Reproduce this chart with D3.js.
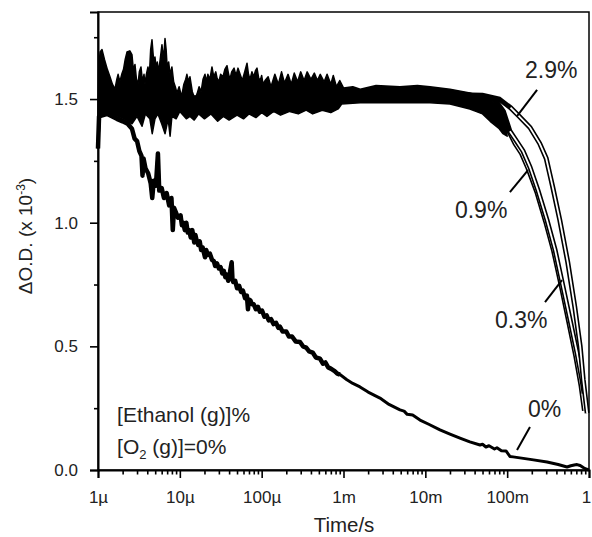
<!DOCTYPE html>
<html>
<head>
<meta charset="utf-8">
<script src="https://cdn.jsdelivr.net/npm/d3@7"></script>
<style>
  body { margin: 0; background: #fff; }
  svg { display: block; font-family: "Liberation Sans", Arial, sans-serif; }
</style>
</head>
<body>
<div id="chart"></div>
<script>
// ---- data (time in s, dOD in 1e-3) ----
const xTickValues = [1e-6, 1e-5, 1e-4, 1e-3, 1e-2, 1e-1, 1];
const xTickLabels = ["1\u00b5", "10\u00b5", "100\u00b5", "1m", "10m", "100m", "1"];
const yTickValues = [0, 0.5, 1.0, 1.5];
const yMinorValues = [0.25, 0.75, 1.25, 1.75];

// noisy band where the three ethanol traces overlap (upper / lower edge)
const bandHi = [
  [1.0e-6, 1.45], [1.02e-6, 1.62], [1.06e-6, 1.69], [1.12e-6, 1.70], [1.2e-6, 1.66],
  [1.3e-6, 1.62], [1.4e-6, 1.59], [1.5e-6, 1.56], [1.61e-6, 1.54], [1.7e-6, 1.58],
  [1.76e-6, 1.60], [1.85e-6, 1.57], [1.95e-6, 1.60], [2.05e-6, 1.62], [2.15e-6, 1.66],
  [2.26e-6, 1.69], [2.45e-6, 1.695], [2.6e-6, 1.68], [2.7e-6, 1.62], [2.83e-6, 1.64],
  [2.95e-6, 1.58], [3.08e-6, 1.56], [3.2e-6, 1.61], [3.35e-6, 1.63], [3.5e-6, 1.57],
  [3.65e-6, 1.60], [3.75e-6, 1.56], [3.9e-6, 1.60], [4.08e-6, 1.63], [4.25e-6, 1.60],
  [4.4e-6, 1.70], [4.57e-6, 1.74], [4.72e-6, 1.68], [4.85e-6, 1.64], [4.97e-6, 1.67],
  [5.15e-6, 1.62], [5.3e-6, 1.65], [5.5e-6, 1.61], [5.75e-6, 1.66], [6.05e-6, 1.72],
  [6.25e-6, 1.67], [6.45e-6, 1.70], [6.59e-6, 1.745], [6.8e-6, 1.70], [7.0e-6, 1.63],
  [7.3e-6, 1.65], [7.6e-6, 1.60], [8.0e-6, 1.63], [8.4e-6, 1.57], [8.8e-6, 1.55],
  [9.23e-6, 1.525], [9.8e-6, 1.55], [1.05e-5, 1.51], [1.12e-5, 1.56], [1.18e-5, 1.58],
  [1.22e-5, 1.60], [1.28e-5, 1.57], [1.33e-5, 1.59], [1.42e-5, 1.53], [1.53e-5, 1.50],
  [1.62e-5, 1.52], [1.72e-5, 1.55], [1.82e-5, 1.53], [1.92e-5, 1.58], [2.03e-5, 1.60],
  [2.12e-5, 1.57], [2.2e-5, 1.60], [2.33e-5, 1.58], [2.47e-5, 1.63], [2.6e-5, 1.59],
  [2.75e-5, 1.61], [2.85e-5, 1.585], [3.0e-5, 1.57], [3.15e-5, 1.60], [3.37e-5, 1.59],
  [3.55e-5, 1.62], [3.77e-5, 1.635], [3.95e-5, 1.60], [4.1e-5, 1.58], [4.3e-5, 1.61],
  [4.6e-5, 1.625], [4.85e-5, 1.595], [5.14e-5, 1.625], [5.45e-5, 1.60], [5.8e-5, 1.575],
  [6.2e-5, 1.61], [6.62e-5, 1.645], [6.9e-5, 1.60], [7.2e-5, 1.58], [7.6e-5, 1.61],
  [8.0e-5, 1.59], [8.4e-5, 1.615], [8.77e-5, 1.625], [9.2e-5, 1.585], [9.6e-5, 1.575],
  [1.0e-4, 1.595], [1.04e-4, 1.56], [1.1e-4, 1.575], [1.2e-4, 1.59], [1.3e-4, 1.55],
  [1.45e-4, 1.60], [1.6e-4, 1.56], [1.75e-4, 1.61], [1.9e-4, 1.565], [2.1e-4, 1.60],
  [2.3e-4, 1.56], [2.5e-4, 1.605], [2.75e-4, 1.57], [3.0e-4, 1.61], [3.3e-4, 1.575],
  [3.6e-4, 1.61], [4.0e-4, 1.58], [4.4e-4, 1.605], [4.8e-4, 1.575], [5.2e-4, 1.60],
  [5.8e-4, 1.57], [6.3e-4, 1.60], [7.0e-4, 1.56], [7.5e-4, 1.595], [8.2e-4, 1.55],
  [9.0e-4, 1.575], [1.0e-3, 1.545], [1.3e-3, 1.55], [1.6e-3, 1.54], [2.5e-3, 1.555],
  [4.9e-3, 1.55], [8.0e-3, 1.555], [1.14e-2, 1.55], [2.0e-2, 1.54], [3.5e-2, 1.525],
  [6.2e-2, 1.50], [8.9e-2, 1.455]
];
const bandLo = [
  [1.0e-6, 1.30], [1.08e-6, 1.44], [1.4e-6, 1.44], [2.0e-6, 1.42], [2.6e-6, 1.40],
  [3.0e-6, 1.43], [3.45e-6, 1.39], [3.8e-6, 1.44], [4.3e-6, 1.42], [4.6e-6, 1.36],
  [4.97e-6, 1.42], [5.4e-6, 1.44], [6.0e-6, 1.40], [6.6e-6, 1.36], [7.2e-6, 1.42],
  [7.6e-6, 1.35], [8.0e-6, 1.43], [9.0e-6, 1.42], [1.0e-5, 1.45], [1.2e-5, 1.42],
  [1.33e-5, 1.43], [1.5e-5, 1.415], [1.7e-5, 1.44], [2.0e-5, 1.42], [2.4e-5, 1.44],
  [2.9e-5, 1.41], [3.4e-5, 1.43], [4.0e-5, 1.415], [5.0e-5, 1.435], [6.0e-5, 1.42],
  [7.0e-5, 1.44], [8.5e-5, 1.425], [1.0e-4, 1.445], [1.16e-4, 1.43], [1.4e-4, 1.45],
  [1.7e-4, 1.435], [2.2e-4, 1.45], [2.8e-4, 1.44], [3.5e-4, 1.455], [4.2e-4, 1.44],
  [5.5e-4, 1.455], [7.0e-4, 1.445], [8.6e-4, 1.46], [9.5e-4, 1.48], [1.6e-3, 1.485],
  [4.9e-3, 1.485], [1.14e-2, 1.485], [2.0e-2, 1.48], [3.5e-2, 1.46], [5.0e-2, 1.44],
  [6.2e-2, 1.41], [8.0e-2, 1.38], [8.9e-2, 1.36], [0.1, 1.35]
];

// individual traces
const ethanol29 = [
  [1e-6, 1.50], [1e-3, 1.51], [1e-2, 1.52], [0.05, 1.515], [0.08, 1.50], [0.11, 1.465],
  [0.14, 1.43], [0.19, 1.385], [0.25, 1.32], [0.30, 1.26], [0.33, 1.20], [0.36, 1.145],
  [0.44, 1.01], [0.55, 0.84], [0.67, 0.66], [0.78, 0.50], [0.85, 0.365], [0.95, 0.23]
];
const ethanol09 = [
  [1e-6, 1.50], [1e-3, 1.51], [1e-2, 1.515], [0.05, 1.51], [0.07, 1.50], [0.09, 1.45],
  [0.108, 1.37], [0.13, 1.33], [0.156, 1.29], [0.19, 1.225], [0.238, 1.13], [0.307, 1.01],
  [0.385, 0.89], [0.482, 0.74], [0.587, 0.607], [0.714, 0.473], [0.822, 0.364], [0.87, 0.31]
];
const ethanol03 = [
  [1e-6, 1.50], [1e-3, 1.51], [1e-2, 1.515], [0.05, 1.505], [0.07, 1.50], [0.09, 1.44],
  [0.105, 1.37], [0.125, 1.32], [0.15, 1.28], [0.18, 1.22], [0.23, 1.125], [0.295, 1.005],
  [0.37, 0.885], [0.465, 0.735], [0.565, 0.60], [0.69, 0.46], [0.80, 0.34], [0.88, 0.24]
];
const ethanol0 = [
  [1.0e-6, 1.30], [1.03e-6, 1.43], [1.3e-6, 1.44], [1.7e-6, 1.42], [2.0e-6, 1.41],
  [2.3e-6, 1.40], [2.6e-6, 1.38], [2.8e-6, 1.34], [3.0e-6, 1.33], [3.2e-6, 1.29],
  [3.4e-6, 1.27], [3.5e-6, 1.19], [3.6e-6, 1.26], [3.8e-6, 1.22], [4.1e-6, 1.20],
  [4.4e-6, 1.16], [4.6e-6, 1.10], [4.8e-6, 1.17], [5.1e-6, 1.15], [5.4e-6, 1.28],
  [5.6e-6, 1.13], [6.0e-6, 1.14], [6.4e-6, 1.10], [6.9e-6, 1.12], [7.4e-6, 1.07],
  [7.9e-6, 1.10], [8.2e-6, 0.97], [8.5e-6, 1.06], [9.0e-6, 1.04], [9.5e-6, 1.02],
  [1.02e-5, 1.03], [1.06e-5, 0.99], [1.1e-5, 1.00], [1.15e-5, 0.97], [1.2e-5, 1.00],
  [1.25e-5, 0.96], [1.3e-5, 0.97], [1.36e-5, 0.94], [1.42e-5, 0.97], [1.5e-5, 0.92],
  [1.55e-5, 0.95], [1.6e-5, 0.93], [1.68e-5, 0.91], [1.75e-5, 0.925], [1.82e-5, 0.89],
  [1.9e-5, 0.90], [2.03e-5, 0.86], [2.1e-5, 0.89], [2.2e-5, 0.87], [2.33e-5, 0.875],
  [2.47e-5, 0.85], [2.6e-5, 0.845], [2.7e-5, 0.825], [2.85e-5, 0.835], [3.0e-5, 0.815],
  [3.15e-5, 0.82], [3.3e-5, 0.795], [3.45e-5, 0.805], [3.6e-5, 0.78], [3.75e-5, 0.79],
  [3.9e-5, 0.765], [4.1e-5, 0.80], [4.3e-5, 0.84], [4.4e-5, 0.77], [4.5e-5, 0.76],
  [4.75e-5, 0.765], [5.0e-5, 0.735], [5.3e-5, 0.745], [5.6e-5, 0.72], [5.9e-5, 0.725],
  [6.26e-5, 0.695], [6.6e-5, 0.705], [6.8e-5, 0.65], [7.0e-5, 0.69], [7.3e-5, 0.685],
  [7.6e-5, 0.67], [8.0e-5, 0.67], [8.5e-5, 0.65], [9.0e-5, 0.66], [9.5e-5, 0.64],
  [1.01e-4, 0.645], [1.08e-4, 0.62], [1.15e-4, 0.625], [1.22e-4, 0.605], [1.3e-4, 0.61],
  [1.4e-4, 0.59], [1.5e-4, 0.595], [1.6e-4, 0.575], [1.67e-4, 0.58], [1.8e-4, 0.56],
  [2.0e-4, 0.56], [2.15e-4, 0.54], [2.35e-4, 0.54], [2.6e-4, 0.52], [2.94e-4, 0.518],
  [3.2e-4, 0.50], [3.5e-4, 0.495], [3.8e-4, 0.48], [4.2e-4, 0.475], [4.6e-4, 0.455],
  [5.16e-4, 0.45], [5.6e-4, 0.43], [6.0e-4, 0.435], [6.5e-4, 0.415], [7.0e-4, 0.41],
  [7.8e-4, 0.40], [8.4e-4, 0.39], [9.06e-4, 0.386], [1.1e-3, 0.365], [1.3e-3, 0.35],
  [1.59e-3, 0.336], [2.0e-3, 0.315], [2.79e-3, 0.291], [3.6e-3, 0.265], [4.9e-3, 0.243],
  [5.5e-3, 0.238], [6.0e-3, 0.225], [7.0e-3, 0.222], [8.61e-3, 0.202], [1.1e-2, 0.185],
  [1.51e-2, 0.162], [2.0e-2, 0.145], [2.65e-2, 0.129], [3.5e-2, 0.114], [4.66e-2, 0.101],
  [5.0e-2, 0.104], [5.5e-2, 0.093], [6.0e-2, 0.098], [7.0e-2, 0.085], [7.5e-2, 0.09],
  [8.5e-2, 0.078], [9.68e-2, 0.077], [0.108, 0.055], [0.118, 0.053], [0.2, 0.042],
  [0.307, 0.032], [0.42, 0.022], [0.539, 0.012], [0.6, 0.017], [0.66, 0.02],
  [0.714, 0.022], [0.78, 0.018], [0.85, 0.01], [0.92, 0.004], [1.0, 0.0]
];

// curve labels: text anchor point and leader line (from, to) in data units
const curveLabels = [
  { text: "2.9%", at: [0.165, 1.585], from: [0.232, 1.537], to: [0.132, 1.431] },
  { text: "0.9%", at: [0.023, 1.019], from: [0.108, 1.124], to: [0.18, 1.213] },
  { text: "0.3%", at: [0.071, 0.574], from: [0.29, 0.679], to: [0.468, 0.768] },
  { text: "0%", at: [0.18, 0.214], from: [0.19, 0.174], to: [0.132, 0.081] }
];

const width = 592;
const height = 537;

const svg = d3
  .select("#chart")
  .append("svg")
  .attr("width", width)
  .attr("height", height);

const x = d3.scaleLog().domain([1e-6, 1]).range([98, 589]);
const y = d3.scaleLinear().domain([0, 1.852]).range([470, 12]);

const line = d3
  .line()
  .x((d) => x(d[0]))
  .y((d) => y(d[1]));

// noisy overlap band of the ethanol traces
svg
  .append("path")
  .attr("d", line(bandHi.concat(bandLo.slice().reverse())) + "Z")
  .attr("fill", "black")
  .attr("stroke", "black")
  .attr("stroke-width", 1.5)
  .attr("stroke-linejoin", "round");

// ethanol traces, drawn as hollow double lines like the printed figure
[ethanol03, ethanol09, ethanol29].forEach((data) => {
  svg
    .append("path")
    .attr("d", line(data))
    .attr("fill", "none")
    .attr("stroke", "black")
    .attr("stroke-width", 5);
  svg
    .append("path")
    .attr("d", line(data.filter((d) => d[0] >= 0.1)))
    .attr("fill", "none")
    .attr("stroke", "white")
    .attr("stroke-width", 1.8);
});

// 0% trace (noisier, thicker at early times)
svg
  .append("path")
  .attr("d", line(ethanol0))
  .attr("fill", "none")
  .attr("stroke", "black")
  .attr("stroke-width", 3)
  .attr("stroke-linejoin", "round");
svg
  .append("path")
  .attr("d", line(ethanol0.filter((d) => d[0] <= 1e-3)))
  .attr("fill", "none")
  .attr("stroke", "black")
  .attr("stroke-width", 4.5)
  .attr("stroke-linejoin", "round");

// frame
svg
  .append("rect")
  .attr("x", x(1e-6))
  .attr("y", y(1.852))
  .attr("width", x(1) - x(1e-6))
  .attr("height", y(0) - y(1.852))
  .attr("fill", "none")
  .attr("stroke", "black")
  .attr("stroke-width", 1.5);

// y axis
const yAxis = svg
  .append("g")
  .attr("transform", `translate(${x(1e-6)},0)`)
  .call(
    d3
      .axisLeft(y)
      .tickValues(yTickValues)
      .tickFormat(d3.format(".1f"))
      .tickSize(8)
      .tickPadding(12)
  );
svg
  .append("g")
  .attr("transform", `translate(${x(1e-6)},0)`)
  .call(d3.axisLeft(y).tickValues(yMinorValues).tickFormat("").tickSize(4))
  .select(".domain")
  .remove();

// x axis
const minorX = [];
for (let e = -6; e < 0; e++) {
  for (let k = 2; k <= 9; k++) minorX.push(k * Math.pow(10, e));
}
const xAxis = svg
  .append("g")
  .attr("transform", `translate(0,${y(0)})`)
  .call(
    d3
      .axisBottom(x)
      .tickValues(xTickValues)
      .tickFormat((d, i) => xTickLabels[i])
      .tickSize(8)
      .tickPadding(13)
  );
svg
  .append("g")
  .attr("transform", `translate(0,${y(0)})`)
  .call(d3.axisBottom(x).tickValues(minorX).tickFormat("").tickSize(4.5))
  .select(".domain")
  .remove();

svg.selectAll(".domain").attr("stroke-width", 2);
svg.selectAll(".tick line").attr("stroke-width", 1.6);
yAxis.selectAll("text").attr("font-size", 17).attr("fill", "#222");
xAxis.selectAll("text").attr("font-size", 17).attr("fill", "#222");
// last label sits at the window edge; nudge it so it stays inside
xAxis.selectAll(".tick text").filter((d) => d === 1).attr("dx", -3);
svg.selectAll("g").attr("font-family", null);

// axis titles
svg
  .append("text")
  .attr("x", 344)
  .attr("y", 532)
  .attr("text-anchor", "middle")
  .attr("font-size", 20.5)
  .attr("fill", "#222")
  .text("Time/s");

const yTitle = svg
  .append("text")
  .attr("transform", "translate(32,236) rotate(-90)")
  .attr("text-anchor", "middle")
  .attr("font-size", 19)
  .attr("fill", "#222");
yTitle.append("tspan").text("\u0394O.D. (x 10");
yTitle.append("tspan").attr("dy", -7).attr("font-size", 12).text("-3");
yTitle.append("tspan").attr("dy", 7).text(")");

// condition notes
svg
  .append("text")
  .attr("x", x(1.71e-6))
  .attr("y", y(0.194))
  .attr("font-size", 21)
  .attr("fill", "#222")
  .text("[Ethanol (g)]%");

const o2 = svg
  .append("text")
  .attr("x", x(1.71e-6))
  .attr("y", y(0.065))
  .attr("font-size", 21)
  .attr("fill", "#222");
o2.append("tspan").text("[O");
o2.append("tspan").attr("dy", 5).attr("font-size", 13).text("2");
o2.append("tspan").attr("dy", -5).text(" (g)]=0%");

// curve labels with leader lines
curveLabels.forEach((c) => {
  svg
    .append("line")
    .attr("x1", x(c.from[0]))
    .attr("y1", y(c.from[1]))
    .attr("x2", x(c.to[0]))
    .attr("y2", y(c.to[1]))
    .attr("stroke", "black")
    .attr("stroke-width", 2);
  svg
    .append("text")
    .attr("x", x(c.at[0]))
    .attr("y", y(c.at[1]))
    .attr("font-size", 23)
    .attr("fill", "#222")
    .text(c.text);
});
</script>
</body>
</html>
